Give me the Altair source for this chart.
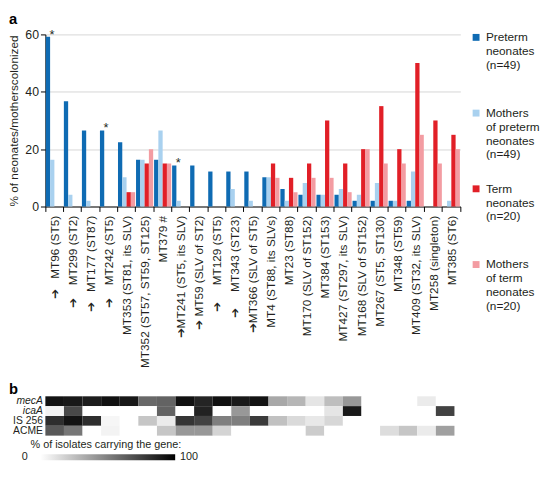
import altair as alt
import pandas as pd

ARROW = "\u2794"
NB = "\u00a0"

strain_labels = [
    ARROW + NB * 3 + "MT96 (ST5)",
    ARROW + NB * 4 + "MT299 (ST2)",
    ARROW + NB * 3 + "MT177 (ST87)",
    ARROW + NB * 4 + "MT242 (ST5)",
    "MT353 (ST81, its SLV)",
    "MT352 (ST57, ST59, ST125)",
    "MT379 #",
    ARROW + "MT241 (ST5, its SLV)",
    ARROW + NB + "MT59 (SLV of ST2)",
    ARROW + NB * 5 + "MT129 (ST5)",
    ARROW + NB * 5 + "MT343 (ST23)",
    ARROW + "MT366 (SLV of ST5)",
    "MT4 (ST88, its SLVs)",
    "MT23 (ST88)",
    "MT170 (SLV of ST152)",
    "MT384 (ST153)",
    "MT427 (ST297, its SLV)",
    "MT168 (SLV of ST152)",
    "MT267 (ST5, ST130)",
    "MT348 (ST59)",
    "MT409 (ST32, its SLV)",
    "MT258 (singleton)",
    "MT385 (ST6)",
]

series = [
    "Preterm|neonates|(n=49)",
    "Mothers|of preterm|neonates|(n=49)",
    "Term|neonates|(n=20)",
    "Mothers|of term|neonates|(n=20)",
]
series_colors = ["#0f6bb3", "#a9d1ef", "#e11f27", "#f39ca2"]

preterm = [59.2, 36.7, 26.5, 26.5, 22.4, 16.3, 16.3, 14.3, 14.3, 12.2, 12.2, 12.2,
           10.2, 6.1, 4.1, 4.1, 4.1, 2.0, 2.0, 2.0, 2.0, 0, 0]
mothers_preterm = [16.3, 4.1, 2.0, 0, 10.2, 16.3, 26.5, 2.0, 0, 0, 6.1, 2.0,
                   10.2, 2.0, 8.2, 4.1, 6.1, 4.1, 8.2, 2.0, 12.2, 0, 2.0]
term = [0, 0, 0, 0, 5, 15, 15, 0, 0, 0, 0, 0,
        15, 10, 15, 30, 15, 20, 35, 20, 50, 30, 25]
mothers_term = [0, 0, 0, 0, 5, 20, 15, 0, 0, 0, 0, 0,
                10, 5, 10, 10, 5, 20, 15, 15, 25, 15, 20]

star_idx = [0, 3, 7]

genes = ["mecA", "icaA", "IS 256", "ACME"]
mecA = [94, 92, 89, 95, 92, 56, 58, 95, 86, 95, 91, 94, 31, 26, 9, 23, 37, 0, 0, 0, 7, 0]
icaA = [4, 69, 0, 0, 0, 0, 58, 0, 87, 0, 37, 0, 0, 0, 0, 9, 91, 0, 0, 0, 0, 72]
is256 = [81, 94, 81, 3, 0, 20, 7, 78, 72, 47, 47, 75, 22, 13, 8, 14, 0, 0, 0, 0, 0, 0]
acme = [62, 50, 0, 4, 0, 0, 20, 37, 37, 15, 0, 0, 0, 0, 18, 0, 0, 0, 12, 20, 7, 34]

TXT = "#231f20"

# ---------------- panel a ----------------
rows = []
for i, lab in enumerate(strain_labels):
    for s, vals in zip(series, [preterm, mothers_preterm, term, mothers_term]):
        rows.append({"strain": lab, "series": s, "pct": vals[i]})
bar_df = pd.DataFrame(rows)

star_df = pd.DataFrame({
    "strain": [strain_labels[i] for i in star_idx],
    "series": [series[0]] * len(star_idx),
    "pct": [preterm[i] for i in star_idx],
    "t": ["*"] * len(star_idx),
})

x_enc = alt.X("strain:N", sort=strain_labels,
              scale=alt.Scale(paddingInner=0.05, paddingOuter=0.025),
              axis=alt.Axis(title=None, labelAngle=-90, labelFontSize=12, labelPadding=4,
                            tickSize=5, tickBand="extent", tickColor="black",
                            domainColor="black", labelColor=TXT, labelLimit=240, grid=False))
xo_enc = alt.XOffset("series:N", sort=series, scale=alt.Scale(paddingInner=0, paddingOuter=0))
y_enc = alt.Y("pct:Q", scale=alt.Scale(domain=[0, 60], nice=False),
              axis=alt.Axis(title="% of neonates/motherscolonized", values=[0, 20, 40, 60],
                            tickSize=5, labelPadding=2, labelFontSize=12.5, titleFontSize=12,
                            titleFontWeight="normal", titlePadding=4, titleColor=TXT,
                            labelColor=TXT, grid=True, gridColor="#d6d6d6",
                            domainColor="black", tickColor="black"))

bars = alt.Chart(bar_df).mark_bar().encode(
    x=x_enc,
    xOffset=xo_enc,
    y=y_enc,
    color=alt.Color("series:N", sort=series,
                    scale=alt.Scale(domain=series, range=series_colors),
                    legend=alt.Legend(title=None, orient="none", legendX=432, legendY=-3,
                                      direction="vertical",
                                      labelExpr="split(datum.label, '|')",
                                      symbolType="square", symbolSize=49,
                                      symbolStrokeWidth=0, labelFontSize=12, labelOffset=4,
                                      rowPadding=23, gridAlign="all", padding=0,
                                      labelLimit=200, labelColor=TXT)),
)

stars = alt.Chart(star_df).mark_text(fontSize=13, color=TXT, dx=4, dy=2,
                                     align="center", baseline="alphabetic").encode(
    x=alt.X("strain:N", sort=strain_labels),
    xOffset=alt.XOffset("series:N", sort=series),
    y="pct:Q",
    text="t:N",
)

a_label = alt.Chart(pd.DataFrame({"t": ["a"]})).mark_text(
    fontSize=15, fontWeight="bold", align="left", baseline="alphabetic", color="black"
).encode(x=alt.value(-37), y=alt.value(-11), text="t:N")

panel_a = alt.layer(bars, stars, a_label).properties(width=422, height=175)

# ---------------- panel b ----------------
hrows = []
for g, vals in zip(genes, [mecA, icaA, is256, acme]):
    for ci, v in enumerate(vals):
        hrows.append({"gene": g, "col": ci + 1, "pct": v})
heat_df = pd.DataFrame(hrows)

heat = alt.Chart(heat_df).mark_rect().encode(
    x=alt.X("col:O", axis=None, scale=alt.Scale(paddingInner=0, paddingOuter=0)),
    y=alt.Y("gene:N", sort=genes,
            axis=alt.Axis(title=None, domain=False, ticks=False, labelPadding=3,
                          labelFontSize=10.5, labelColor=TXT,
                          labelFontStyle={"condition": {"test": "datum.value == 'mecA' || datum.value == 'icaA'",
                                                        "value": "italic"},
                                          "value": "normal"})),
    color=alt.Color("pct:Q", scale=alt.Scale(domain=[0, 100], range=["#ffffff", "#000000"]),
                    legend=None),
)

b_label = alt.Chart(pd.DataFrame({"t": ["b"]})).mark_text(
    fontSize=15, fontWeight="bold", align="left", baseline="alphabetic", color="black"
).encode(x=alt.value(-37), y=alt.value(-2), text="t:N")

gscale = alt.Scale(domain=[0, 100], range=[-5, 132])
grad = alt.Chart(pd.DataFrame({"lo": [0], "hi": [100]})).mark_rect(
    color=alt.LinearGradient(gradient="linear",
                             stops=[alt.GradientStop(color="#ffffff", offset=0),
                                    alt.GradientStop(color="#000000", offset=1)],
                             x1=0, x2=1, y1=0, y2=0)
).encode(x=alt.X("lo:Q", scale=gscale, axis=None), x2="hi:Q",
         y=alt.value(59), y2=alt.value(65))

g0 = alt.Chart(pd.DataFrame({"v": [0], "t": ["0"]})).mark_text(
    fontSize=11, align="right", baseline="middle", dx=-13, color=TXT
).encode(x=alt.X("v:Q", scale=gscale, axis=None), y=alt.value(62), text="t:N")
g100 = alt.Chart(pd.DataFrame({"v": [100], "t": ["100"]})).mark_text(
    fontSize=11, align="left", baseline="middle", dx=5, color=TXT
).encode(x=alt.X("v:Q", scale=gscale, axis=None), y=alt.value(62), text="t:N")
gtitle = alt.Chart(pd.DataFrame({"t": ["% of isolates carrying the gene:"]})).mark_text(
    fontSize=11, align="left", baseline="alphabetic", color=TXT
).encode(x=alt.value(-15), y=alt.value(53), text="t:N")

panel_b = alt.layer(heat, b_label, grad, g0, g100, gtitle).resolve_scale(
    x="independent").properties(width=416, height=40)

chart = alt.vconcat(panel_a, panel_b, spacing=193, bounds="flush").resolve_scale(
    color="independent"
).properties(padding=0).configure(font="Liberation Sans").configure_view(stroke=None)

chart.save("out.html", embed_options={"renderer": "svg", "actions": False})
